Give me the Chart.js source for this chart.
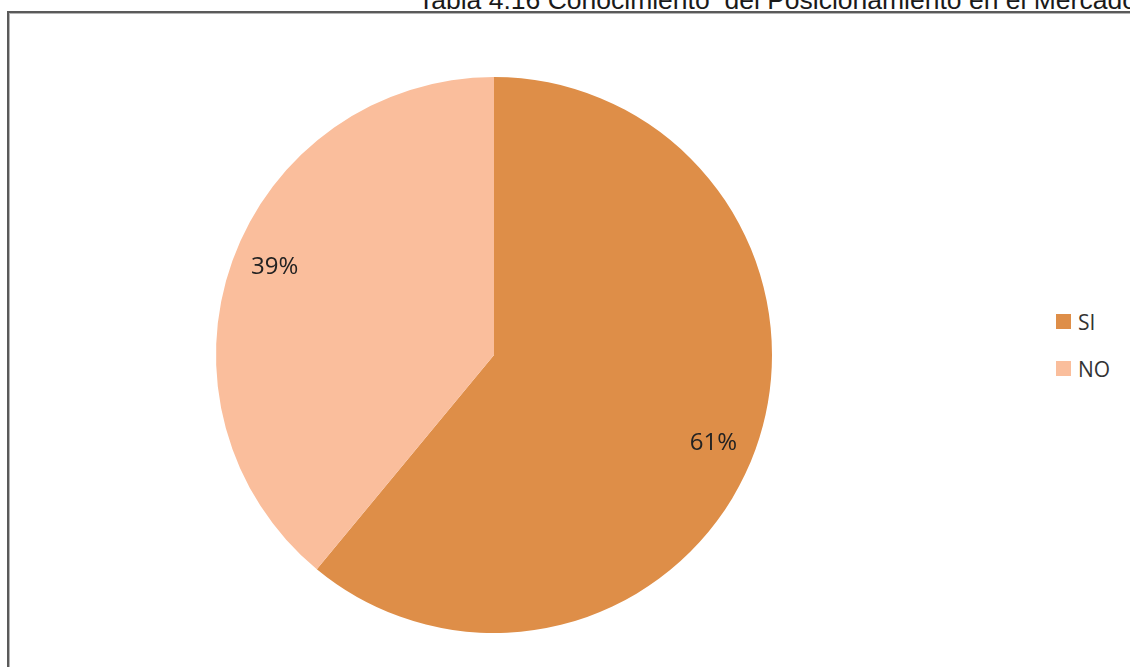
<!DOCTYPE html>
<html lang="es">
<head>
<meta charset="utf-8">
<title>Conocimiento del Posicionamiento en el Mercado</title>
<script src="https://cdn.jsdelivr.net/npm/chart.js@4"></script>
<style>
  html, body { margin: 0; padding: 0; width: 1130px; height: 667px; overflow: hidden; background: #fff; }
  #titulo {
    position: absolute; left: 418px; top: -13px;
    font-family: "Liberation Sans", Arial, sans-serif; font-size: 26.5px; line-height: 26.5px;
    color: #1a1a1a; white-space: pre;
  }
  #marco {
    position: absolute; left: 7px; top: 11px; width: 1200px; height: 700px;
    border-left: 2px solid #5a5a5a; border-top: 2px solid #5a5a5a;
    box-shadow: inset 1px 1px 0 #b5b5b5;
  }
  #grafico { position: absolute; left: 10px; top: 14px; width: 968px; height: 653px; }
  #leyenda { position: absolute; left: 1056px; top: 307px; font-family: "Open Sans", sans-serif; font-size: 21px; color: #333; }
  .item { display: flex; align-items: center; height: 29px; margin-bottom: 18px; }
  .caja { width: 15px; height: 15px; margin-right: 7px; }
</style>
</head>
<body>
<div id="titulo">Tabla 4.16 Conocimiento  del Posicionamiento en el Mercado</div>
<div id="marco"></div>
<div id="grafico"><canvas id="pieChart"></canvas></div>
<div id="leyenda"></div>

<script>
const categorias = ['SI', 'NO'];
const porcentajes = [61, 39];
const colores = ['#DE8E48', '#FABE9C'];

// etiquetas de porcentaje dentro de cada porción (un poco giradas, como en Excel)
const etiquetasPorcentaje = {
  id: 'etiquetasPorcentaje',
  afterDatasetsDraw(chart) {
    const ctx = chart.ctx;
    const meta = chart.getDatasetMeta(0);
    ctx.save();
    ctx.font = '24px "Open Sans", sans-serif';
    ctx.fillStyle = '#222';
    ctx.textAlign = 'center';
    ctx.textBaseline = 'middle';
    meta.data.forEach((arc, i) => {
      const p = arc.getProps(['x', 'y', 'startAngle', 'endAngle', 'outerRadius'], true);
      const mid = (p.startAngle + p.endAngle) / 2 + 0.035;
      const r = p.outerRadius * 0.85;
      ctx.fillText(porcentajes[i] + '%', p.x + Math.cos(mid) * r, p.y + Math.sin(mid) * r);
    });
    ctx.restore();
  }
};

function initChart() {
  const ctx = document.getElementById('pieChart').getContext('2d');
  const chart = new Chart(ctx, {
    type: 'pie',
    data: {
      labels: categorias,
      datasets: [{ data: porcentajes, backgroundColor: colores, borderWidth: 0 }]
    },
    options: {
      responsive: true,
      maintainAspectRatio: false,
      animation: false,
      layout: { padding: { top: 63, bottom: 34 } },
      plugins: {
        legend: { display: false },
        tooltip: { enabled: false }
      }
    },
    plugins: [etiquetasPorcentaje]
  });

  // leyenda a la derecha, con los mismos colores del gráfico
  const leyenda = document.getElementById('leyenda');
  chart.data.labels.forEach((lbl, i) => {
    const item = document.createElement('div');
    item.className = 'item';
    const caja = document.createElement('span');
    caja.className = 'caja';
    caja.style.background = chart.data.datasets[0].backgroundColor[i];
    const txt = document.createElement('span');
    txt.innerText = lbl;
    item.appendChild(caja);
    item.appendChild(txt);
    leyenda.appendChild(item);
  });
}

document.addEventListener('DOMContentLoaded', initChart);
</script>
</body>
</html>
